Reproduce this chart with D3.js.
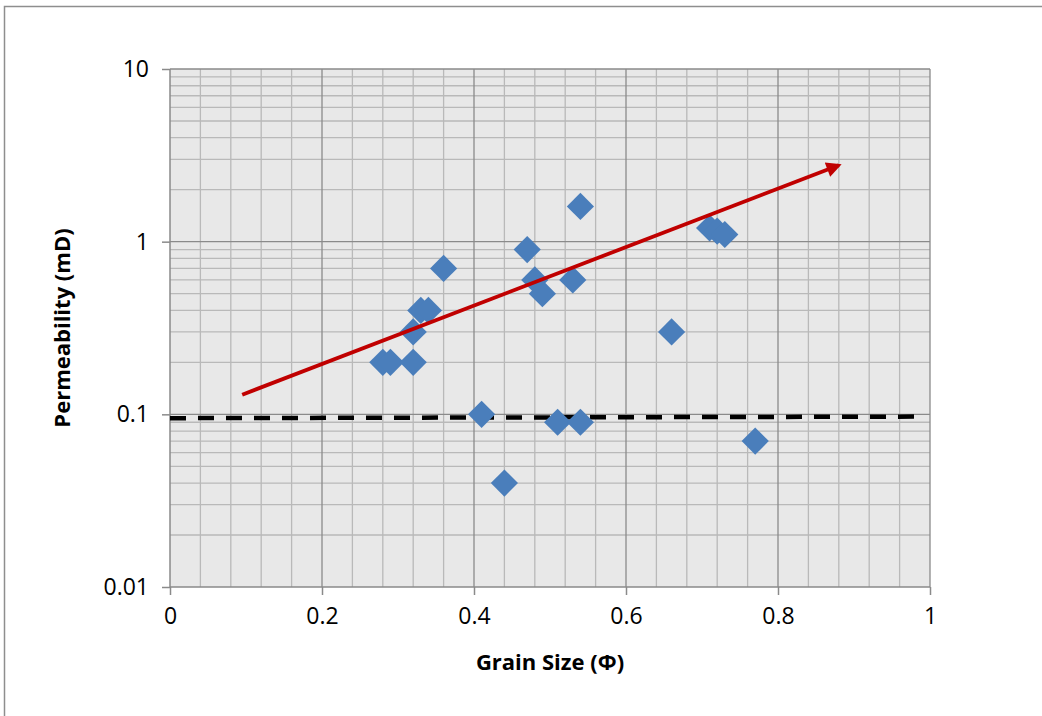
<!DOCTYPE html>
<html>
<head>
<meta charset="utf-8">
<script src="https://cdn.jsdelivr.net/npm/d3@7"></script>
<style>
  body { margin: 0; background: #fff; }
  svg { display: block; font-family: "Open Sans", sans-serif; }
</style>
</head>
<body>
<div id="chart"></div>
<script>
// grain size (phi) vs permeability (mD)
const grainSize = [0.28, 0.29, 0.32, 0.32, 0.33, 0.34, 0.36, 0.41, 0.44, 0.47, 0.48,
                   0.49, 0.51, 0.53, 0.54, 0.54, 0.66, 0.71, 0.72, 0.73, 0.77];
const permeability = [0.2, 0.2, 0.2, 0.3, 0.4, 0.4, 0.7, 0.1, 0.04, 0.9, 0.6,
                      0.5, 0.09, 0.6, 1.6, 0.09, 0.3, 1.2, 1.15, 1.1, 0.07];

// hand-drawn annotation lines, in data units
const trendArrow = [[0.095, 0.13], [0.88, 2.77]];
const cutoffLine = [[0, 0.095], [0.98, 0.097]];

const xTicks = [0, 0.2, 0.4, 0.6, 0.8, 1];
const yTicks = [0.01, 0.1, 1, 10];

const W = 1042, H = 716;
const margin = {top: 69, right: 112, bottom: 129, left: 170};

const svg = d3.select("#chart").append("svg")
  .attr("width", W)
  .attr("height", H);

// outer frame
svg.append("rect")
  .attr("x", 4.5).attr("y", 6.5)
  .attr("width", W + 20).attr("height", H + 20)
  .attr("fill", "none")
  .attr("stroke", "#8e8e8e")
  .attr("stroke-width", 1.5);

const x = d3.scaleLinear().domain([0, 1]).range([margin.left, W - margin.right]);
const y = d3.scaleLog().domain([0.01, 10]).range([H - margin.bottom, margin.top]);

// plot background
svg.append("rect")
  .attr("x", x(0)).attr("y", y(10))
  .attr("width", x(1) - x(0)).attr("height", y(0.01) - y(10))
  .attr("fill", "#e8e8e8");

// minor gridlines
const xMinor = d3.range(1, 25).map(i => i * 0.04).filter(v => Math.abs(v / 0.2 - Math.round(v / 0.2)) > 1e-6);
const yMinor = [];
[0.01, 0.1, 1].forEach(d => { for (let k = 2; k <= 9; k++) yMinor.push(d * k); });

svg.append("g")
  .selectAll("line")
  .data(xMinor)
  .enter().append("line")
    .attr("x1", d => x(d)).attr("x2", d => x(d))
    .attr("y1", y(10)).attr("y2", y(0.01))
    .attr("stroke", "#b9b9b9")
    .attr("stroke-width", 1.3);

svg.append("g")
  .selectAll("line")
  .data(yMinor)
  .enter().append("line")
    .attr("x1", x(0)).attr("x2", x(1))
    .attr("y1", d => y(d)).attr("y2", d => y(d))
    .attr("stroke", "#b9b9b9")
    .attr("stroke-width", 1.3);

// major gridlines
svg.append("g")
  .selectAll("line")
  .data(xTicks.slice(1))
  .enter().append("line")
    .attr("x1", d => x(d)).attr("x2", d => x(d))
    .attr("y1", y(10)).attr("y2", y(0.01))
    .attr("stroke", "#8a8a8a")
    .attr("stroke-width", 1.3);

svg.append("g")
  .selectAll("line")
  .data(yTicks.slice(1))
  .enter().append("line")
    .attr("x1", x(0)).attr("x2", x(1))
    .attr("y1", d => y(d)).attr("y2", d => y(d))
    .attr("stroke", "#8a8a8a")
    .attr("stroke-width", 1.3);

// axes
const xAxis = d3.axisBottom(x).tickValues(xTicks).tickFormat(d3.format("")).tickSize(8).tickPadding(13);
const yAxis = d3.axisLeft(y).tickValues(yTicks).tickFormat(d => String(d)).tickSize(8).tickPadding(13);

svg.append("g")
  .attr("transform", `translate(0,${y(0.01)})`)
  .call(xAxis)
  .call(g => g.select(".domain").attr("stroke", "#8a8a8a").attr("stroke-width", 1.5).attr("d", `M${x(0)},0H${x(1)}`))
  .call(g => g.selectAll(".tick line").attr("stroke", "#8a8a8a").attr("stroke-width", 1.5))
  .call(g => g.selectAll("text").attr("fill", "#000").style("font-size", "23px").style("font-family", "Open Sans"));

svg.append("g")
  .attr("transform", `translate(${x(0)},0)`)
  .call(yAxis)
  .call(g => g.select(".domain").attr("stroke", "#8a8a8a").attr("stroke-width", 1.5).attr("d", `M0,${y(0.01)}V${y(10)}`))
  .call(g => g.selectAll(".tick line").attr("stroke", "#8a8a8a").attr("stroke-width", 1.5))
  .call(g => g.selectAll("text").attr("fill", "#000").style("font-size", "23px").style("font-family", "Open Sans"));

// axis titles
svg.append("text")
  .attr("x", (x(0) + x(1)) / 2)
  .attr("y", 670)
  .attr("text-anchor", "middle")
  .style("font-size", "22px")
  .style("font-weight", "bold")
  .text("Grain Size (Φ)");

svg.append("text")
  .attr("transform", `translate(70,${(y(10) + y(0.01)) / 2}) rotate(-90)`)
  .attr("text-anchor", "middle")
  .style("font-size", "22px")
  .style("font-weight", "bold")
  .text("Permeability (mD)");

// cutoff dashed line
svg.append("line")
  .attr("x1", x(cutoffLine[0][0])).attr("y1", y(cutoffLine[0][1]))
  .attr("x2", x(cutoffLine[1][0])).attr("y2", y(cutoffLine[1][1]))
  .attr("stroke", "#000")
  .attr("stroke-width", 4.5)
  .attr("stroke-dasharray", "16,12");

// data points: squares turned 45 degrees
const points = grainSize.map((g, i) => ({g, k: permeability[i]}));
svg.append("g")
  .selectAll("path")
  .data(points)
  .enter().append("path")
    .attr("d", d3.symbol().type(d3.symbolSquare).size(370))
    .attr("transform", d => `translate(${x(d.g)},${y(d.k)}) rotate(45)`)
    .attr("fill", "#4a7ebb");

// trend arrow
svg.append("defs").append("marker")
  .attr("id", "arrow")
  .attr("viewBox", "0 0 10 10")
  .attr("refX", 8).attr("refY", 5)
  .attr("markerWidth", 5).attr("markerHeight", 4)
  .attr("markerUnits", "strokeWidth")
  .attr("orient", "auto")
  .append("path")
    .attr("d", "M0,0L10,5L0,10z")
    .attr("fill", "#c00000");

svg.append("line")
  .attr("x1", x(trendArrow[0][0])).attr("y1", y(trendArrow[0][1]))
  .attr("x2", x(trendArrow[1][0])).attr("y2", y(trendArrow[1][1]))
  .attr("stroke", "#c00000")
  .attr("stroke-width", 3.8)
  .attr("marker-end", "url(#arrow)");
</script>
</body>
</html>
